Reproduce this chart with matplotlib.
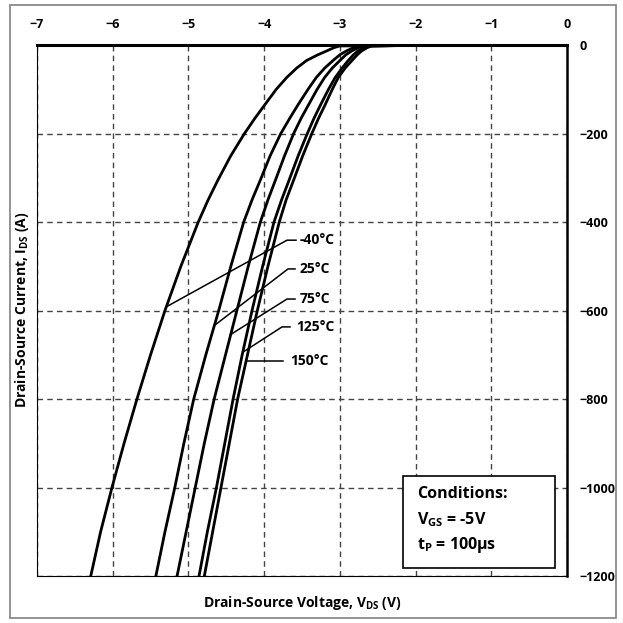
import matplotlib
matplotlib.use("Agg")
import matplotlib.pyplot as plt
from matplotlib.patches import Rectangle

plt.rcParams['font.family'] = ['Open Sans', 'DejaVu Sans']
plt.rcParams['font.weight'] = 'bold'
plt.rcParams['mathtext.fontset'] = 'custom'
plt.rcParams['mathtext.rm'] = 'Open Sans:bold'
plt.rcParams['mathtext.bf'] = 'Open Sans:bold'

# corriente comun (A) y tension de cada curva (V)
corriente = [0, -0.8, -2, -6, -13, -22, -35, -52, -73, -100, -137, -165, -200, -250,
             -305, -350, -400, -500, -600, -700, -800, -900, -1000, -1100, -1200]
v_m40 = [0, -2.0, -3.00, -3.08, -3.17, -3.29, -3.44, -3.57, -3.70, -3.84, -4.00, -4.12, -4.26,
         -4.44, -4.61, -4.74, -4.87, -5.10, -5.31, -5.50, -5.68, -5.85, -6.01, -6.16, -6.29]
v_25 = [0, -2.0, -2.75, -2.82, -2.91, -3.00, -3.09, -3.20, -3.31, -3.42, -3.56, -3.66, -3.78,
        -3.92, -4.05, -4.16, -4.27, -4.44, -4.60, -4.77, -4.93, -5.06, -5.18, -5.31, -5.43]
v_75 = [0, -2.0, -2.70, -2.76, -2.84, -2.92, -3.00, -3.10, -3.20, -3.30, -3.42, -3.51, -3.61,
        -3.73, -3.85, -3.95, -4.05, -4.21, -4.36, -4.51, -4.66, -4.79, -4.91, -5.03, -5.15]
v_125 = [0, -2.0, -2.63, -2.69, -2.76, -2.82, -2.89, -2.97, -3.06, -3.15, -3.26, -3.34, -3.43,
         -3.55, -3.67, -3.77, -3.87, -4.02, -4.16, -4.29, -4.41, -4.52, -4.63, -4.75, -4.86]
v_150 = [0, -2.0, -2.58, -2.64, -2.71, -2.77, -2.84, -2.93, -3.02, -3.10, -3.20, -3.28, -3.37,
         -3.49, -3.61, -3.71, -3.80, -3.95, -4.09, -4.22, -4.35, -4.46, -4.57, -4.68, -4.79]

etiquetas = ["-40°C", "25°C", "75°C", "125°C", "150°C"]
# lineas guia: punto en la curva, codo, fin
guia_v = [(-5.296, -3.698, -3.579), (-4.636, -3.685, -3.592), (-4.45, -3.698, -3.592),
          (-4.28, -3.764, -3.658), (-4.24, -3.751, -3.751)]
guia_i = [(-592, -441, -441), (-631, -506, -506), (-655, -574, -574),
          (-694, -637, -637), (-714, -714, -714)]
texto_v = [-3.526, -3.526, -3.526, -3.579, -3.658]

x_ticks = [-7, -6, -5, -4, -3, -2, -1, 0]
y_ticks = [0, -200, -400, -600, -800, -1000, -1200]

fig = plt.figure(figsize=(6.23, 6.23), dpi=100)
ax = fig.add_axes([0.0594, 0.0754, 0.8507, 0.8523])

for v in [v_m40, v_25, v_75, v_125, v_150]:
    ax.plot(v, corriente, color='black', lw=2, zorder=3, solid_joinstyle='round')

for gv, gi, tv, et in zip(guia_v, guia_i, texto_v, etiquetas):
    ax.plot(gv, gi, color='black', lw=1.1, zorder=3)
    ax.text(tv, gi[2], et, fontsize=10, fontweight='bold', va='center', ha='left', zorder=4)

ax.set_xlim(-7, 0)
ax.set_ylim(-1200, 0)
ax.set_xticks(x_ticks)
ax.set_yticks(y_ticks)
ax.xaxis.tick_top()
ax.yaxis.tick_right()
ax.tick_params(length=0, labelsize=9)
ax.tick_params(axis='x', pad=10)
ax.tick_params(axis='y', pad=9)
for lab in ax.get_xticklabels() + ax.get_yticklabels():
    lab.set_fontweight('bold')

ax.grid(True, color='#444444', lw=1.0, linestyle=(0, (4, 3)))
ax.spines['top'].set_linewidth(2.2)
ax.spines['right'].set_linewidth(1.8)
ax.spines['left'].set_linewidth(0.8)
ax.spines['bottom'].set_linewidth(0.8)

# cuadro de condiciones
ax.add_patch(Rectangle((-2.166, -1182), 2.008, 208, facecolor='white',
                       edgecolor='black', lw=1.2, zorder=5))
ax.text(-1.981, -1015, "Conditions:", fontsize=11.5, fontweight='bold', va='center', zorder=6)
ax.text(-1.981, -1073, r"V$_{\mathbf{GS}}$ = -5V", fontsize=11.5, fontweight='bold', va='center', zorder=6)
ax.text(-1.981, -1130, r"t$_{\mathbf{P}}$ = 100µs", fontsize=11.5, fontweight='bold', va='center', zorder=6)

fig.text(302 / 623, 1 - 603 / 623, r"Drain-Source Voltage, V$_{\mathbf{DS}}$ (V)",
         fontsize=10, fontweight='bold', ha='center', va='center')
fig.text(22 / 623, 1 - 310 / 623, r"Drain-Source Current, I$_{\mathbf{DS}}$ (A)",
         fontsize=10, fontweight='bold', ha='center', va='center', rotation=90)

fig.patches.append(Rectangle((10 / 623, 5 / 623), 606 / 623, 613 / 623,
                             transform=fig.transFigure, fill=False,
                             edgecolor='#8a8a8a', lw=1.3))

fig.savefig("out.png", dpi=100)
